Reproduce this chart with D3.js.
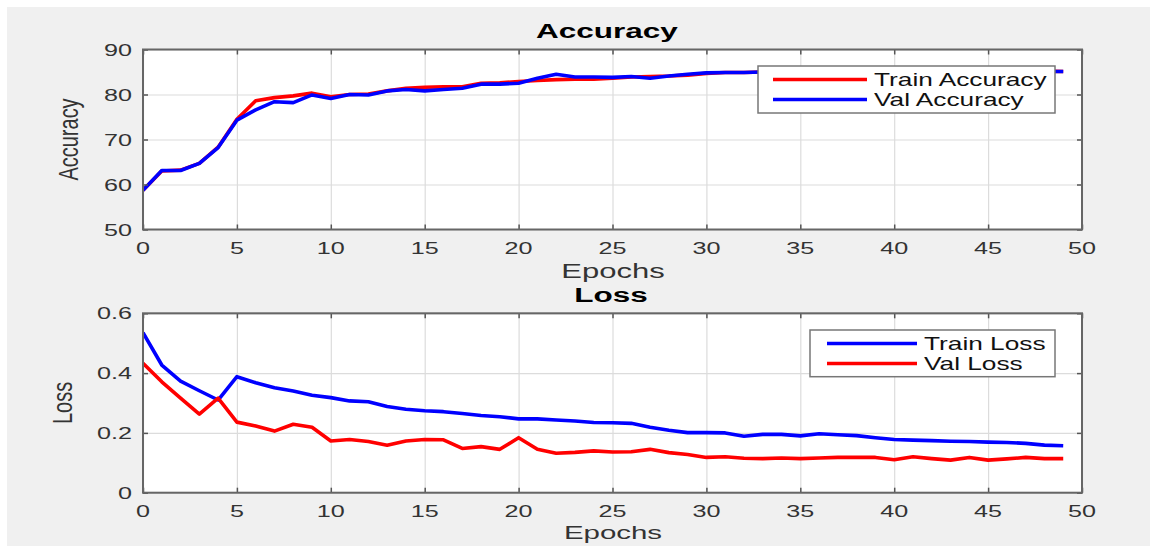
<!DOCTYPE html>
<html><head><meta charset="utf-8">
<script src="https://cdn.jsdelivr.net/npm/d3@7"></script>
<style>html,body{margin:0;padding:0;background:#fff;}svg{display:block;}</style>
</head><body>
<script>
const epochs = d3.range(0, 50);
const trainAcc = [58.7,63.0,63.2,64.7,68.3,74.5,78.6,79.3,79.7,80.3,
  79.5,80.0,80.1,80.8,81.4,81.6,81.7,81.7,82.5,82.6,
  82.9,83.1,83.3,83.4,83.4,83.6,83.9,84.0,84.1,84.3,
  84.7,84.9,84.9,85.0,85.0,85.1,85.1,85.1,85.2,85.1,
  85.2,85.2,85.2,85.3,85.2,85.3,85.2,85.3,85.2,85.1];
const valAcc = [58.7,63.1,63.1,64.7,68.2,74.3,76.6,78.4,78.2,79.9,
  79.1,80.0,79.9,80.8,81.1,80.8,81.1,81.4,82.3,82.3,
  82.5,83.6,84.5,83.9,83.9,83.8,84.0,83.6,84.1,84.5,
  84.8,84.9,84.9,85.0,85.0,85.0,85.1,85.0,85.1,85.1,
  85.0,85.1,85.1,85.1,85.0,85.1,85.1,85.1,85.1,85.1];
const trainLoss = [0.535,0.427,0.373,0.341,0.310,0.388,0.368,0.351,0.340,0.326,
  0.318,0.307,0.304,0.288,0.279,0.274,0.271,0.265,0.258,0.254,
  0.247,0.247,0.243,0.240,0.235,0.234,0.232,0.219,0.209,0.201,
  0.201,0.200,0.189,0.195,0.195,0.190,0.197,0.194,0.191,0.184,
  0.178,0.176,0.174,0.172,0.171,0.169,0.168,0.165,0.159,0.157];
const valLoss = [0.433,0.371,0.316,0.263,0.316,0.236,0.223,0.206,0.229,0.219,
  0.173,0.178,0.171,0.159,0.173,0.178,0.177,0.148,0.154,0.145,
  0.184,0.145,0.132,0.135,0.140,0.136,0.137,0.145,0.134,0.128,
  0.118,0.120,0.115,0.114,0.116,0.114,0.116,0.118,0.118,0.118,
  0.110,0.120,0.114,0.109,0.118,0.109,0.113,0.118,0.114,0.114];
const xTicks = [0,5,10,15,20,25,30,35,40,45,50];
const accTicks = [50,60,70,80,90];
const lossTicks = [0,0.2,0.4,0.6];
const accLegend = ["Train Accuracy","Val Accuracy"];
const lossLegend = ["Train Loss","Val Loss"];

const W = 1150, H = 546, SX = 1.48;
const FONT = "'Liberation Sans', Arial, sans-serif";
const svg = d3.select("body").append("svg").attr("width", W).attr("height", H);
svg.append("rect").attr("x",7).attr("y",7).attr("width",W-7).attr("height",H-7).attr("fill","#f0f0f0");

function stretchText(g, x, y, txt, opts) {
  return g.append("text")
    .attr("transform", `translate(${x},${y}) scale(${opts.sx||SX},1)` + (opts.rot ? ` rotate(${opts.rot})` : ""))
    .attr("text-anchor", opts.anchor || "middle")
    .attr("font-family", FONT)
    .attr("font-size", opts.size)
    .attr("font-weight", opts.bold ? "bold" : "normal")
    .attr("fill", opts.fill || "#262626")
    .text(txt);
}

function panel(cfg) {
  const {left, right, top, bottom, yDomain, yTicks, yFmt, series, legend, title, ylabel} = cfg;
  const x = d3.scaleLinear().domain([0,50]).range([left, right]);
  const y = d3.scaleLinear().domain(yDomain).range([bottom, top]);
  const g = svg.append("g");
  g.append("rect").attr("x",left).attr("y",top).attr("width",right-left).attr("height",bottom-top).attr("fill","#fff");
  g.append("g").attr("transform",`translate(0,${bottom})`)
    .call(d3.axisBottom(x).tickValues(xTicks).tickSize(-(bottom-top)).tickFormat(""))
    .call(s => { s.select(".domain").remove(); s.selectAll("line").attr("stroke","#dcdcdc").attr("stroke-width",1.2); });
  g.append("g").attr("transform",`translate(${left},0)`)
    .call(d3.axisLeft(y).tickValues(yTicks).tickSize(-(right-left)).tickFormat(""))
    .call(s => { s.select(".domain").remove(); s.selectAll("line").attr("stroke","#dcdcdc").attr("stroke-width",1.2); });
  const clipId = "clip" + Math.round(top);
  svg.append("clipPath").attr("id", clipId).append("rect")
    .attr("x",left).attr("y",top).attr("width",right-left).attr("height",bottom-top);
  const line = d3.line().x((d,i)=>x(epochs[i])).y(d=>y(d));
  series.forEach(s => {
    g.append("path").datum(s.values).attr("d", line).attr("fill","none")
      .attr("stroke", s.color).attr("stroke-width", 3.6).attr("stroke-linejoin","round")
      .attr("clip-path", `url(#${clipId})`);
  });
  const ax = (gen, tr) => g.append("g").attr("transform", tr).call(gen)
    .call(s => { s.select(".domain").remove(); s.selectAll("line").attr("stroke","#555").attr("stroke-width",1.5); s.selectAll("text").remove(); });
  ax(d3.axisBottom(x).tickValues(xTicks).tickSize(-5), `translate(0,${bottom})`);
  ax(d3.axisTop(x).tickValues(xTicks).tickSize(-5), `translate(0,${top})`);
  ax(d3.axisLeft(y).tickValues(yTicks).tickSize(-5), `translate(${left},0)`);
  ax(d3.axisRight(y).tickValues(yTicks).tickSize(-5), `translate(${right},0)`);
  g.append("rect").attr("x",left).attr("y",top).attr("width",right-left).attr("height",bottom-top)
    .attr("fill","none").attr("stroke","#666").attr("stroke-width",2);
  xTicks.forEach(t => stretchText(g, x(t), bottom + 24, t, {size:17, fill:"#333"}));
  yTicks.forEach(t => stretchText(g, left - 11, y(t) + 6, yFmt(t), {size:17, fill:"#333", anchor:"end"}));
  stretchText(g, title.x, title.y, title.text, {size:21, bold:true, fill:"#000", sx:1.5});
  stretchText(g, 613, cfg.xlabY, "Epochs", {size:cfg.xlabSize, fill:"#333", sx:1.55});
  stretchText(g, ylabel.x, (top+bottom)/2, ylabel.text, {size:20, fill:"#333", rot:-90, sx:1.4});
  const L = legend;
  const lg = g.append("g");
  lg.append("rect").attr("x",L.x0).attr("y",L.y0).attr("width",L.x1-L.x0).attr("height",L.y1-L.y0)
    .attr("fill","#fff").attr("stroke","#777").attr("stroke-width",1.5);
  L.items.forEach((it, i) => {
    const yy = L.rows[i];
    lg.append("line").attr("x1",L.lx0).attr("x2",L.lx1).attr("y1",yy).attr("y2",yy)
      .attr("stroke",it.color).attr("stroke-width",3.6);
    stretchText(lg, L.tx, yy + 6, it.label, {size:17.5, fill:"#111", anchor:"start", sx:1.5});
  });
}

panel({
  left:143, right:1082, top:49.5, bottom:229.5, yDomain:[50,90], yTicks:accTicks, yFmt:d=>d,
  series:[{values:trainAcc,color:"#ff0000"},{values:valAcc,color:"#0000ff"}],
  title:{x:607, y:38, text:"Accuracy"}, xlabY:278, xlabSize:20, ylabel:{x:78, text:"Accuracy"},
  legend:{x0:758,x1:1055,y0:66,y1:113,rows:[79.5,99.5],lx0:773,lx1:867,tx:874,
    items:[{label:accLegend[0],color:"#ff0000"},{label:accLegend[1],color:"#0000ff"}]}
});
panel({
  left:143, right:1082, top:313.3, bottom:492.7, yDomain:[0,0.6], yTicks:lossTicks, yFmt:d=>d===0?"0":d3.format(".1f")(d),
  series:[{values:trainLoss,color:"#0000ff"},{values:valLoss,color:"#ff0000"}],
  title:{x:611, y:302, text:"Loss"}, xlabY:539, xlabSize:19, ylabel:{x:72, text:"Loss"},
  legend:{x0:810,x1:1055,y0:330,y1:376.7,rows:[343.5,363.5],lx0:827,lx1:917,tx:924,
    items:[{label:lossLegend[0],color:"#0000ff"},{label:lossLegend[1],color:"#ff0000"}]}
});
</script>
</body></html>
